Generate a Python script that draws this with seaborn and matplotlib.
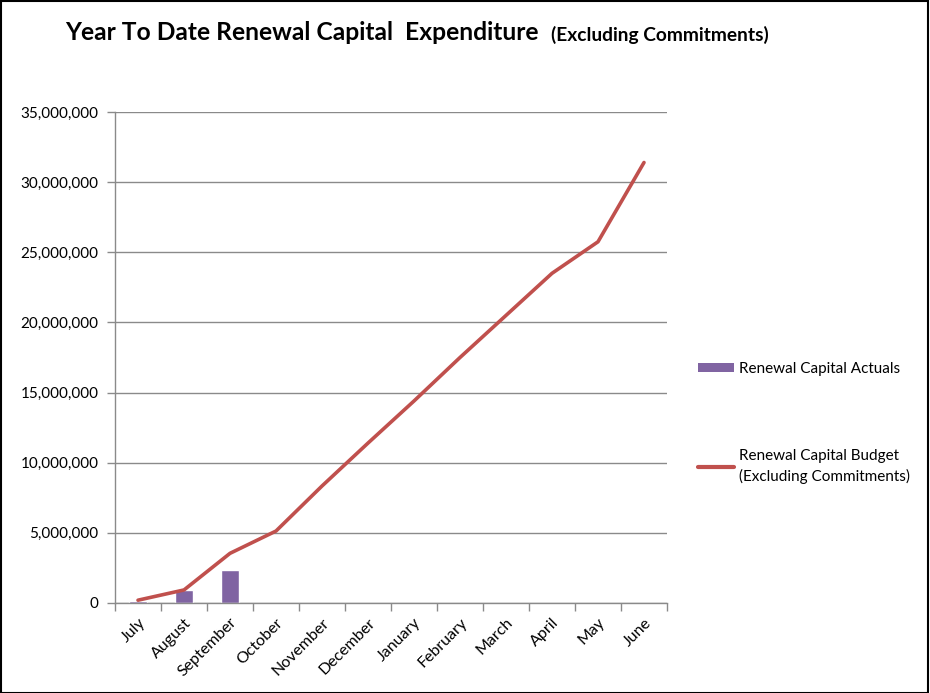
import matplotlib
matplotlib.use("Agg")
import matplotlib.pyplot as plt
import seaborn as sns
import pandas as pd
from matplotlib.ticker import FuncFormatter, FixedLocator
from matplotlib.lines import Line2D
from matplotlib.patches import Patch, Rectangle

months = ["July", "August", "September", "October", "November", "December",
          "January", "February", "March", "April", "May", "June"]
actual_months = ["July", "August", "September"]
actuals = [160000, 930000, 2330000]
budget = [200000, 930000, 3540000, 5130000, 8340000, 11400000,
          14400000, 17500000, 20500000, 23500000, 25750000, 31400000]
yticks = [0, 5000000, 10000000, 15000000, 20000000, 25000000, 30000000, 35000000]

sns.set_theme(style="white")
plt.rcParams['font.family'] = ['Lato', 'DejaVu Sans']
plt.rcParams['text.color'] = 'black'
plt.rcParams['xtick.color'] = 'black'
plt.rcParams['ytick.color'] = 'black'

fig = plt.figure(figsize=(9.3, 6.93), dpi=100)
ax = fig.add_axes([115/930, 1-603/693, (667-115)/930, (603-112)/693])

df_a = pd.DataFrame({"month": actual_months, "value": actuals})
sns.barplot(data=df_a, x="month", y="value", order=months, color="#8064A2",
            width=0.4, saturation=1, ax=ax, zorder=2)
df_b = pd.DataFrame({"pos": list(range(len(months))), "value": budget})
sns.lineplot(data=df_b, x="pos", y="value", color="#C0504D", linewidth=2.6,
             ax=ax, zorder=3, sort=False)

ax.set_xlim(-0.5, len(months) - 0.5)
ax.set_ylim(0, 35000000)
ax.set_yticks(yticks)
ax.yaxis.set_major_formatter(FuncFormatter(lambda v, p: f"{int(v):,}"))
ax.yaxis.grid(True, color="#8a8a8a", linewidth=1)
ax.set_axisbelow(True)
ax.set_xlabel("")
ax.set_ylabel("")
ax.set_xticks(range(len(months)))
ax.set_xticklabels(months, rotation=45, ha="right", rotation_mode="anchor", fontsize=11.5)
ax.xaxis.set_minor_locator(FixedLocator([i - 0.5 for i in range(len(months) + 1)]))
ax.tick_params(axis="x", which="major", length=0, pad=9)
ax.tick_params(axis="x", which="minor", length=6, color="#8a8a8a", width=1, direction="out", bottom=True)
ax.tick_params(axis="y", length=6, color="#8a8a8a", width=1, direction="out", left=True,
               labelsize=11, pad=6, labelcolor="black")
for s in ["top", "right"]:
    ax.spines[s].set_visible(False)
for s in ["left", "bottom"]:
    ax.spines[s].set_color("#8a8a8a")
    ax.spines[s].set_linewidth(1)

fig.text(65/930, 1-33/693, "Year To Date Renewal Capital  Expenditure",
         fontsize=17.7, fontweight="bold", va="center", ha="left",
         family=["Liberation Sans Narrow", "Lato", "DejaVu Sans"])
fig.text(551/930, 1-35/693, "(Excluding Commitments)",
         fontsize=13.8, fontweight="bold", va="center", ha="left",
         family=["Liberation Sans Narrow", "Lato", "DejaVu Sans"])

handles = [Patch(facecolor="#8064A2", edgecolor="none"),
           Line2D([0], [0], color="#C0504D", linewidth=3)]
labels = ["Renewal Capital Actuals", "Renewal Capital Budget\n(Excluding Commitments)"]
fig.legend(handles, labels, loc="upper left", bbox_to_anchor=(684/930, 1-348/693),
           frameon=False, fontsize=11, labelspacing=4.8, handlelength=2.4,
           handleheight=0.6, handletextpad=0.3)
for t in fig.legends[0].get_texts():
    t.set_linespacing(1.45)
    t.set_color("black")

fig.patches.append(Rectangle((0.001, 0.0), 0.997, 0.998, transform=fig.transFigure,
                             fill=False, edgecolor="black", linewidth=1.5))

fig.savefig("out.png", dpi=100)
